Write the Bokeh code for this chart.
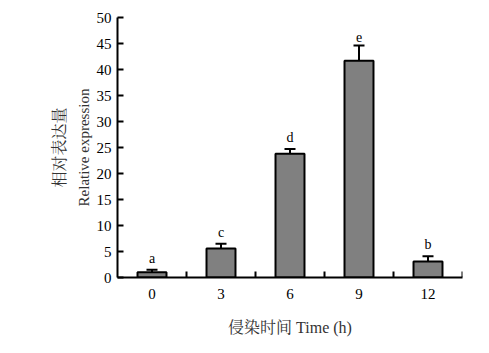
import math
from bokeh.plotting import figure
from bokeh.models import ColumnDataSource, Range1d, FixedTicker, Whisker, TeeHead, Title
from bokeh.core.properties import value
from bokeh.embed import file_html
from bokeh.resources import INLINE

times = ["0", "3", "6", "9", "12"]
means = [1.0, 5.6, 23.8, 41.7, 3.1]
errors = [0.5, 0.9, 0.9, 2.9, 1.0]
letters = ["a", "c", "d", "e", "b"]
y_ticks = [0, 5, 10, 15, 20, 25, 30, 35, 40, 45, 50]

SERIF = "Liberation Serif, Noto Serif CJK SC, Noto Sans CJK SC, serif"

xs = [i + 0.5 for i in range(len(times))]
bounds = list(range(1, len(times) + 1))
TICK_LEN = 1.15  # tick length expressed in y-data units (about 6 px)
src = ColumnDataSource(dict(
    x=xs, top=means,
    upper=[m + e for m, e in zip(means, errors)],
    lower=[m - e for m, e in zip(means, errors)],
    letter=letters,
))

p = figure(width=489, height=353, output_backend="svg", toolbar_location=None,
           x_range=Range1d(0, len(times)), y_range=Range1d(0, 50),
           min_border_left=117, min_border_right=27, min_border_top=17, min_border_bottom=76)
p.outline_line_color = None
p.grid.grid_line_color = None

p.vbar(x="x", top="top", width=0.42, bottom=0, source=src,
       fill_color="#808080", line_color="black", line_width=2)

w = Whisker(base="x", upper="upper", lower="lower", source=src,
            line_color="black", line_width=2,
            upper_head=TeeHead(size=11, line_color="black", line_width=2),
            lower_head=TeeHead(size=11, line_color="black", line_width=2))
p.add_layout(w)

p.text(x="x", y="upper", text="letter", source=src, y_offset=-4,
       text_align="center", text_baseline="bottom",
       text_font=value(SERIF), text_font_size="14px", text_color="black")

# short inward tick marks at the category boundaries
p.segment(x0=bounds, y0=[0] * len(bounds), x1=bounds, y1=[TICK_LEN] * len(bounds),
          line_color="black", line_width=2)

xa = p.xaxis[0]
xa.ticker = FixedTicker(ticks=xs)
xa.major_label_overrides = {x: t for x, t in zip(xs, times)}
xa.major_tick_in = 0
xa.major_tick_out = 0
xa.major_tick_line_color = None
xa.minor_tick_line_color = None
xa.axis_line_width = 2
xa.axis_line_color = "black"
xa.major_label_standoff = 11
xa.major_label_text_font = SERIF
xa.major_label_text_font_size = "15px"
xa.major_label_text_color = "black"
xa.axis_label = "侵染时间 Time (h)"
xa.axis_label_standoff = 17
xa.axis_label_text_font = SERIF
xa.axis_label_text_font_size = "16px"
xa.axis_label_text_font_style = "normal"
xa.axis_label_text_color = "#333333"

ya = p.yaxis[0]
ya.ticker = FixedTicker(ticks=y_ticks)
ya.major_tick_in = 6
ya.major_tick_out = 0
ya.minor_tick_line_color = None
ya.major_tick_line_width = 2
ya.major_label_standoff = 6
ya.axis_line_width = 2
ya.axis_line_color = "black"
ya.major_tick_line_color = "black"
ya.major_label_text_font = SERIF
ya.major_label_text_font_size = "15px"
ya.major_label_text_color = "black"
ya.axis_label = "Relative expression"
ya.axis_label_standoff = 2
ya.axis_label_text_font = SERIF
ya.axis_label_text_font_size = "15px"
ya.axis_label_text_font_style = "normal"
ya.axis_label_text_color = "#333333"
p.add_layout(Title(text="相对表达量", align="center", text_font=SERIF,
                   text_font_size="16px", text_font_style="normal", text_color="#333333"), "left")

open("out.html", "w").write(file_html(p, INLINE))
